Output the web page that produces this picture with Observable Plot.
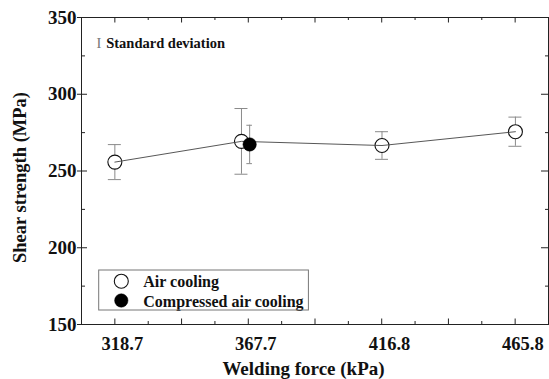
<!DOCTYPE html>
<html><head><meta charset="utf-8">
<script src="https://cdn.jsdelivr.net/npm/d3@7"></script>
<script src="https://cdn.jsdelivr.net/npm/@observablehq/plot@0.6"></script>
<style>
body{margin:0;background:#fff}
#chart svg{display:block}
#chart svg, #chart svg text, #chart svg tspan{font-family:"Liberation Serif","Times New Roman",serif !important}
</style>
</head><body><div id="chart"></div>
<script>
// ---- data ----
const xTickValues = [318.7, 367.7, 416.8, 465.8];
const xTickLabels = ["318.7", "367.7", "416.8", "465.8"];
const yTickValues = [150, 200, 250, 300, 350];
const yMinorValues = [175, 225, 275, 325];

const airForce = [318.7, 365.2, 416.8, 465.8];   // middle point drawn slightly left of its tick
const airMean  = [255.8, 269.3, 266.6, 275.6];
const airSD    = [11.4, 21.4, 9.0, 9.5];

const compForce = [368.2];
const compMean  = [267.3];
const compSD    = [12.5];

const seriesNames = ["Air cooling", "Compressed air cooling"];
const noteText = "Standard deviation";
const xTitle = "Welding force (kPa)";
const yTitle = "Shear strength (MPa)";

// ---- layout ----
const W = 549, H = 379, mL = 81, mR = 1, mT = 17, mB = 55;
const xDomain = [306.45, 477.95], yDomain = [150, 350];
const plotW = W - mL - mR, plotH = H - mT - mB;
const kx = (xDomain[1] - xDomain[0]) / plotW;
const step = 12.25;
const xLong = d3.range(0, 13, 2).map(k => 318.7 + k * step);
const xShort = d3.range(1, 13, 2).map(k => 318.7 + k * step);

const air = airForce.map((x, i) => ({x, m: airMean[i], lo: airMean[i] - airSD[i], hi: airMean[i] + airSD[i]}));
const comp = compForce.map((x, i) => ({x, m: compMean[i], lo: compMean[i] - compSD[i], hi: compMean[i] + compSD[i]}));

const font = "Liberation Serif";
const tickColor = "#222";
const barColor = "#8a8a8a";
const capA = 6.5 * kx, capC = 2.8 * kx;

const plot = Plot.plot({
  width: W, height: H,
  marginLeft: mL, marginRight: mR, marginTop: mT, marginBottom: mB,
  style: {fontFamily: font, background: "#fff", overflow: "visible"},
  x: {domain: xDomain, label: null},
  y: {domain: yDomain, label: null},
  marks: [
    // ticks (inside the frame)
    Plot.tickX(xLong, {x: d => d, insetTop: plotH - 5.5, stroke: tickColor}),
    Plot.tickX(xShort, {x: d => d, insetTop: plotH - 3, stroke: tickColor}),
    Plot.tickX(xLong, {x: d => d, insetBottom: plotH - 5.5, stroke: tickColor}),
    Plot.tickX(xShort, {x: d => d, insetBottom: plotH - 3, stroke: tickColor}),
    Plot.tickY(yTickValues, {y: d => d, insetLeft: -4, insetRight: plotW - 6, stroke: tickColor}),
    Plot.tickY(yMinorValues, {y: d => d, insetRight: plotW - 4, stroke: tickColor}),
    Plot.tickY(yTickValues, {y: d => d, insetLeft: plotW - 7, stroke: tickColor}),
    Plot.tickY(yMinorValues, {y: d => d, insetLeft: plotW - 3, stroke: tickColor}),
    Plot.axisX(xTickValues, {tickSize: 0, tickPadding: 12, dx: 7.5, fontSize: 18.5, fontWeight: "bold",
      fontFamily: font, fill: "#111", tickFormat: d => xTickLabels[xTickValues.indexOf(d)], label: null}),
    Plot.axisY(yTickValues, {tickSize: 0, tickPadding: 5, fontSize: 19, fontWeight: "bold",
      fontFamily: font, fill: "#111", label: null}),
    // error bars
    Plot.ruleX(air, {x: "x", y1: "lo", y2: "hi", stroke: barColor, strokeWidth: 1}),
    Plot.ruleY(air, {y: "lo", x1: d => d.x - capA, x2: d => d.x + capA, stroke: barColor}),
    Plot.ruleY(air, {y: "hi", x1: d => d.x - capA, x2: d => d.x + capA, stroke: barColor}),
    Plot.ruleX(comp, {x: "x", y1: "lo", y2: "hi", stroke: barColor, strokeWidth: 1}),
    Plot.ruleY(comp, {y: "lo", x1: d => d.x - capC, x2: d => d.x + capC, stroke: barColor}),
    Plot.ruleY(comp, {y: "hi", x1: d => d.x - capC, x2: d => d.x + capC, stroke: barColor}),
    // series
    Plot.dot(air, {x: "x", y: "m", r: 7, fill: "#fff", stroke: "#111", strokeWidth: 1.1}),
    Plot.line(air, {x: "x", y: "m", stroke: "#444", strokeWidth: 0.9}),
    Plot.dot(comp, {x: "x", y: "m", r: 6.7, fill: "#000", stroke: "#000", strokeWidth: 0.5}),
    // frame
    Plot.frame({stroke: tickColor, strokeWidth: 1}),
    // note
    Plot.text(["I"], {frameAnchor: "top-left", dx: 17.3, dy: 30.3, lineAnchor: "bottom", textAnchor: "middle",
      fontSize: 14.5, fontFamily: font, fill: "#777"}),
    Plot.text([noteText], {frameAnchor: "top-left", dx: 24.7, dy: 30.3, lineAnchor: "bottom", textAnchor: "start",
      fontSize: 14.5, fontWeight: "bold", fontFamily: font, fill: "#111"}),
    // legend
    Plot.dot([seriesNames[0]], {frameAnchor: "bottom-left", dx: 39.8, dy: -43.3, r: 7, fill: "#fff", stroke: "#111", strokeWidth: 1.1}),
    Plot.dot([seriesNames[1]], {frameAnchor: "bottom-left", dx: 39.8, dy: -24, r: 6.7, fill: "#000", stroke: "#000", strokeWidth: 0.5}),
    Plot.text([seriesNames[0]], {frameAnchor: "bottom-left", dx: 61.8, dy: -37.3, lineAnchor: "bottom", textAnchor: "start",
      fontSize: 16, fontWeight: "bold", fontFamily: font, fill: "#111"}),
    Plot.text([seriesNames[1]], {frameAnchor: "bottom-left", dx: 61.8, dy: -18, lineAnchor: "bottom", textAnchor: "start",
      fontSize: 16, fontWeight: "bold", fontFamily: font, fill: "#111"}),
    // axis titles
    Plot.text([xTitle], {frameAnchor: "bottom", dx: -11.5, dy: 50.3, lineAnchor: "bottom", textAnchor: "middle",
      fontSize: 19, fontWeight: "bold", fontFamily: font, fill: "#111"}),
    Plot.text([yTitle], {frameAnchor: "left", dx: -55.5, dy: 6.5, rotate: -90, lineAnchor: "bottom", textAnchor: "middle",
      fontSize: 18.5, fontWeight: "bold", fontFamily: font, fill: "#111"})
  ]
});

// legend box
d3.select(plot).append("rect")
  .attr("x", 98.7).attr("y", 270).attr("width", 209.7).attr("height", 40)
  .attr("fill", "none").attr("stroke", "#777").attr("stroke-width", 1);
document.getElementById("chart").appendChild(plot);
</script>
</body></html>
